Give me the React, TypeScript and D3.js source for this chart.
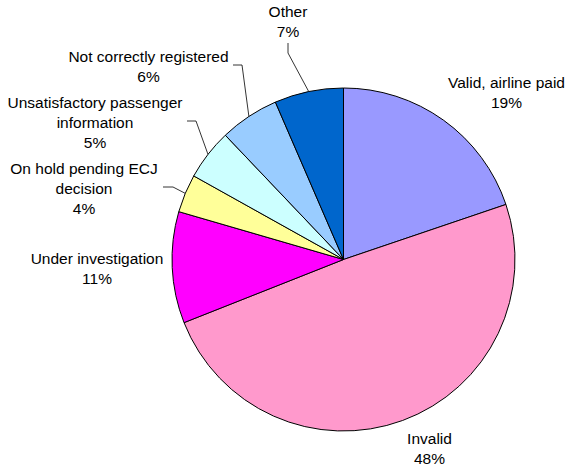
import React from "react";
import * as d3 from "d3";

const categories = [
  "Valid, airline paid",
  "Invalid",
  "Under investigation",
  "On hold pending ECJ decision",
  "Unsatisfactory passenger information",
  "Not correctly registered",
  "Other",
];
const values = [19.8, 49.2, 10.5, 3.6, 4.8, 5.6, 6.5];
const percentLabels = ["19%", "48%", "11%", "4%", "5%", "6%", "7%"];
const labelLines = [
  ["Valid, airline paid"],
  ["Invalid"],
  ["Under investigation"],
  ["On hold pending ECJ", "decision"],
  ["Unsatisfactory passenger", "information"],
  ["Not correctly registered"],
  ["Other"],
];
const colors = ["#9999FF", "#FF99CC", "#FF00FF", "#FFFF99", "#CCFFFF", "#99CCFF", "#0066CC"];

// label layout: text center x, first line center y, optional elbow (x,y) for leader
const labelLayout: { x: number; y: number; leader?: [number, number][] }[] = [
  { x: 506.5, y: 82 },
  { x: 429.5, y: 438.5 },
  { x: 97, y: 258 },
  { x: 84, y: 168, leader: [[163, 187], [173, 187]] },
  { x: 95, y: 102, leader: [[187, 121], [196, 121]] },
  { x: 148.5, y: 56.5, leader: [[233, 65], [242, 65]] },
  { x: 288, y: 11.5, leader: [[288, 43], [288, 53]] },
];

const W = 567;
const H = 464;
const cx = 343.5;
const cy = 259.5;
const R = 171.5;
const lineH = 20;

export default function App() {
  const pie = d3.pie<number>().sort(null).startAngle(0).endAngle(2 * Math.PI)(values);
  const arc = d3.arc<d3.PieArcDatum<number>>().innerRadius(0).outerRadius(R);
  return (
    <svg width={W} height={H} style={{ position: "absolute", left: 0, top: 0, background: "#fff" }}>
      <g transform={`translate(${cx},${cy})`}>
        {pie.map((p, i) => (
          <path key={i} d={arc(p) || ""} fill={colors[i]} stroke="#000" strokeWidth={1} />
        ))}
      </g>
      {pie.map((p, i) => {
        const L = labelLayout[i];
        if (!L.leader) return null;
        const mid = (p.startAngle + p.endAngle) / 2;
        const ex = cx + R * Math.sin(mid);
        const ey = cy - R * Math.cos(mid);
        const pts: [number, number][] = [...L.leader, [ex, ey]];
        return (
          <path key={"l" + i} d={d3.line()(pts) || ""} fill="none" stroke="#000" strokeWidth={0.8} />
        );
      })}
      {categories.map((c, i) => {
        const L = labelLayout[i];
        const lines = [...labelLines[i], percentLabels[i]];
        return (
          <text
            key={"t" + i}
            textAnchor="middle"
            fontFamily="Liberation Sans, Arial, sans-serif"
            fontSize={15.5}
            fill="#000"
          >
            {lines.map((ln, j) => (
              <tspan key={j} x={L.x} y={L.y + j * lineH} dominantBaseline="central">
                {ln}
              </tspan>
            ))}
          </text>
        );
      })}
    </svg>
  );
}
